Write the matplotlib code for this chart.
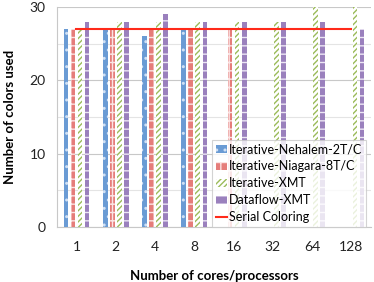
import matplotlib
matplotlib.use("Agg")
import matplotlib.pyplot as plt
import numpy as np

plt.rcParams['font.family'] = ['Lato', 'DejaVu Sans']
plt.rcParams['hatch.linewidth'] = 1.0

categories = ['1', '2', '4', '8', '16', '32', '64', '128']
nehalem = [27, 27, 26, 27, np.nan, np.nan, np.nan, np.nan]
niagara = [27, 27, 27, 27, 27, np.nan, np.nan, np.nan]
iter_xmt = [27, 28, 28, 28, 28, 28, 30, 30]
dataflow = [28, 28, 29, 28, 28, 28, 28, 27]
serial = [27, 27, 27, 27, 27, 27, 27, 27]

fig = plt.figure(figsize=(3.74, 2.82), dpi=100)
ax = fig.add_axes([0.152, 0.195, 0.840, 0.780])

x = np.arange(len(categories))
w = 0.12
pitch = 0.18
series = [
    ('Iterative-Nehalem-2T/C', nehalem, '#6a9bd4', '#d0e0f4', '..'),
    ('Iterative-Niagara-8T/C', niagara, '#e57d7a', '#fbe4e4', '++'),
    ('Iterative-XMT', iter_xmt, '#ffffff', '#9bbb59', '//////'),
    ('Dataflow-XMT', dataflow, '#9a80bd', '#ece6f4', '--'),
]
handles = []
for i, (name, vals, fc, hc, h) in enumerate(series):
    b = ax.bar(x + (i - 1.5) * pitch, vals, width=w, facecolor=fc, edgecolor=hc,
               hatch=h, linewidth=0, label=name, zorder=3)
    handles.append(b)
ln, = ax.plot(x, serial, color='#ff2a1a', lw=1.5, label='Serial Coloring', zorder=4)
handles.append(ln)

ax.set_xlim(-0.5, len(categories) - 0.5)
ax.set_ylim(0, 30)
ax.set_yticks([0, 10, 20, 30])
ax.set_yticks([5, 15, 25], minor=True)
ax.grid(axis='y', which='major', color='#c8c8c8', lw=0.8, zorder=0)
ax.grid(axis='y', which='minor', color='#e4e4e4', lw=0.8, zorder=0)
ax.set_xticks(x)
ax.set_xticklabels(categories)
ax.tick_params(axis='both', which='both', length=0, labelsize=10, colors='#222222')
ax.tick_params(axis='x', pad=10)
ax.tick_params(axis='y', pad=8)
for s in ['top', 'right']:
    ax.spines[s].set_visible(False)
ax.spines['left'].set_color('#c8c8c8')
ax.spines['bottom'].set_color('#c8c8c8')

ax.set_xlabel('Number of cores/processors', fontweight='bold', fontsize=9.5, labelpad=12)
ax.set_ylabel('Number of colors used', fontweight='bold', fontsize=9.5, labelpad=10)

leg = ax.legend(handles=handles, loc='lower right', bbox_to_anchor=(0.985, 0.0), fontsize=9,
                frameon=True, fancybox=False, handlelength=0.9, handletextpad=0.2,
                borderpad=0.3, labelspacing=0.4, borderaxespad=0)
leg.get_frame().set_edgecolor('#c8c8c8')
leg.get_frame().set_linewidth(0.8)

fig.savefig('out.png', dpi=100)
